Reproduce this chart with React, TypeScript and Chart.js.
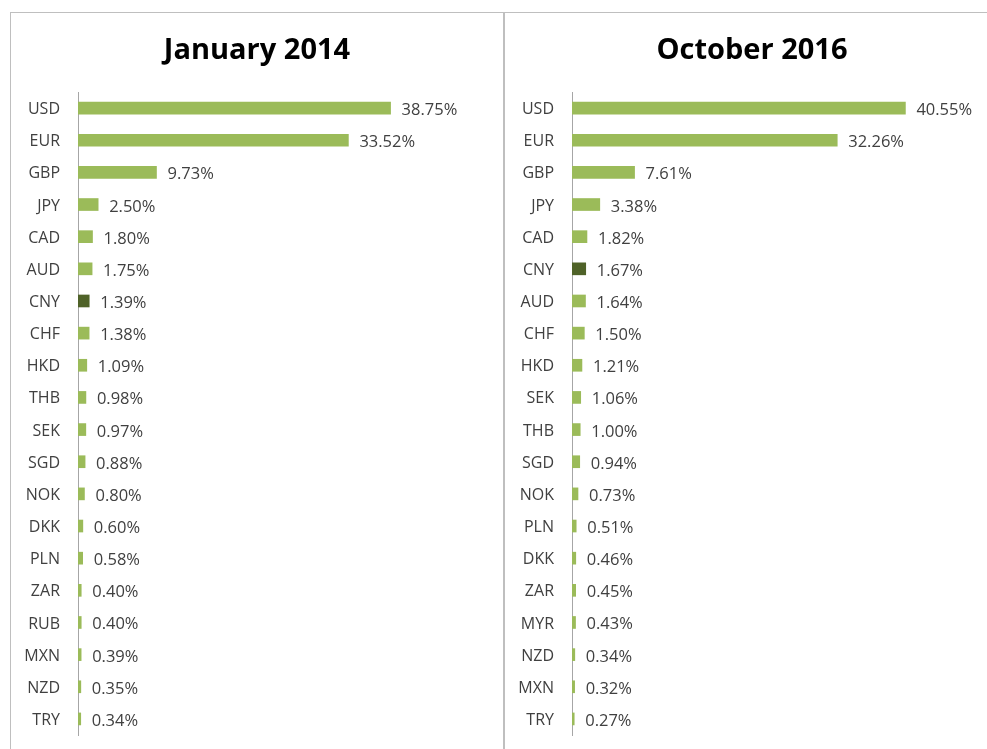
import React, { useEffect, useRef } from "react";
import { Chart, registerables } from "chart.js";

Chart.register(...registerables);

const titleLeft = "January 2014";
const titleRight = "October 2016";

const categoriesLeft = ["USD", "EUR", "GBP", "JPY", "CAD", "AUD", "CNY", "CHF", "HKD", "THB", "SEK", "SGD", "NOK", "DKK", "PLN", "ZAR", "RUB", "MXN", "NZD", "TRY"];
const valuesLeft = [38.75, 33.52, 9.73, 2.5, 1.8, 1.75, 1.39, 1.38, 1.09, 0.98, 0.97, 0.88, 0.8, 0.6, 0.58, 0.4, 0.4, 0.39, 0.35, 0.34];

const categoriesRight = ["USD", "EUR", "GBP", "JPY", "CAD", "CNY", "AUD", "CHF", "HKD", "SEK", "THB", "SGD", "NOK", "PLN", "DKK", "ZAR", "MYR", "NZD", "MXN", "TRY"];
const valuesRight = [40.55, 32.26, 7.61, 3.38, 1.82, 1.67, 1.64, 1.5, 1.21, 1.06, 1.0, 0.94, 0.73, 0.51, 0.46, 0.45, 0.43, 0.34, 0.32, 0.27];

const highlight = "CNY";
const GREEN = "#9BBB59";
const DARK = "#4F6228";
const FONT = "'Open Sans', 'DejaVu Sans', sans-serif";

const panelTitlePlugin = {
  id: "panelTitle",
  afterDraw(chart: any, _args: any, opts: any) {
    const ctx = chart.ctx;
    ctx.save();
    ctx.font = `bold 29px ${FONT}`;
    ctx.fillStyle = "#000000";
    ctx.textAlign = "center";
    ctx.textBaseline = "alphabetic";
    ctx.fillText(opts.text, opts.x, opts.y);
    ctx.restore();
  },
};

const dataLabelPlugin = {
  id: "barValueLabels",
  afterDatasetsDraw(chart: any) {
    const ctx = chart.ctx;
    const meta = chart.getDatasetMeta(0);
    const data = chart.data.datasets[0].data;
    ctx.save();
    ctx.font = `16.5px ${FONT}`;
    ctx.fillStyle = "#404040";
    ctx.textAlign = "left";
    ctx.textBaseline = "alphabetic";
    meta.data.forEach((el: any, i: number) => {
      ctx.fillText(Number(data[i]).toFixed(2) + "%", el.x + 11, el.y + 7);
    });
    ctx.restore();
  },
};

function BarPanel(props: {
  labels: string[];
  values: number[];
  title: string;
  titleX: number;
  width: number;
  rightPad: number;
}) {
  const ref = useRef<HTMLCanvasElement>(null);
  useEffect(() => {
    if (!ref.current) return;
    const chart = new Chart(ref.current, {
      type: "bar",
      data: {
        labels: props.labels,
        datasets: [
          {
            data: props.values,
            backgroundColor: props.labels.map((c) => (c === highlight ? DARK : GREEN)),
            barThickness: 12,
          },
        ],
      },
      plugins: [panelTitlePlugin, dataLabelPlugin],
      options: {
        indexAxis: "y",
        animation: false,
        responsive: false,
        maintainAspectRatio: false,
        layout: { padding: { top: 79, bottom: 14, left: 0, right: props.rightPad } },
        plugins: {
          legend: { display: false },
          tooltip: { enabled: false },
          title: { display: false },
          panelTitle: { text: props.title, x: props.titleX, y: 46 },
        } as any,
        scales: {
          x: { display: false, min: 0, max: 45, grid: { display: false } },
          y: {
            grid: { display: false, tickLength: 8 },
            border: { display: true, color: "#a6a6a6", width: 1 },
            ticks: { color: "#404040", font: { family: FONT, size: 16 }, padding: 10, labelOffset: 1.5 },
            afterFit: (scale: any) => {
              scale.width = 67;
              scale.paddingTop = 0;
              scale.paddingBottom = 0;
            },
          },
        },
      },
    } as any);
    return () => chart.destroy();
  }, []);
  return <canvas ref={ref} width={props.width} height={736} style={{ display: "block", width: props.width, height: 736 }} />;
}

export default function App() {
  return (
    <div style={{ position: "absolute", left: 0, top: 0, width: 987, height: 749, overflow: "hidden", background: "#fff" }}>
      <div style={{ position: "absolute", left: 10, top: 12, width: 492, height: 760, borderTop: "1px solid #bfbfbf", borderLeft: "1px solid #bfbfbf", borderRight: "1px solid #bfbfbf" }}>
        <BarPanel labels={categoriesLeft} values={valuesLeft} title={titleLeft} titleX={246} width={492} rightPad={62} />
      </div>
      <div style={{ position: "absolute", left: 504, top: 12, width: 500, height: 760, borderTop: "1px solid #bfbfbf", borderLeft: "1px solid #bfbfbf" }}>
        <BarPanel labels={categoriesRight} values={valuesRight} title={titleRight} titleX={247} width={482} rightPad={45} />
      </div>
    </div>
  );
}
